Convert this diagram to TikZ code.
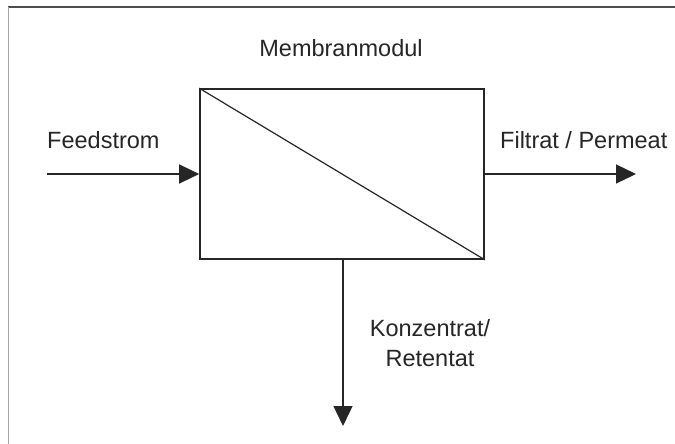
\documentclass[tikz,border=0pt]{standalone}
\usepackage{fontspec}
\setmainfont{Liberation Sans}
\usetikzlibrary{arrows.meta}
\begin{document}
\begin{tikzpicture}[x=1pt,y=-1pt,
  lbl/.style={font=\fontsize{23.5}{30}\selectfont, text=black!85, inner sep=0pt},
  flow/.style={line width=1.3pt, draw=black!85, -{Triangle[length=20pt,width=19pt]}}]
\useasboundingbox (0,0) rectangle (675,444);
\fill[white] (0,0) rectangle (675,444);
% frame
\draw[line width=1.5pt, black!70] (8,7) -- (675,7);
\draw[line width=1.5pt, black!35] (8.5,7) -- (8.5,444);
% module
\node[draw=black!85, line width=1.6pt, minimum width=284pt, minimum height=170pt, inner sep=0pt] (box) at (342,174) {};
\draw[line width=1.2pt, black!85] (box.north west) -- (box.south east);
% labels
\node[lbl] (mod) at (341,48) {Membranmodul};
\node[lbl, anchor=west] (feed) at (47,140) {Feedstrom};
\node[lbl, anchor=west] (filt) at (500,140) {Filtrat / Permeat};
\node[lbl, align=center] (konz) at (430,343) {Konzentrat/\\Retentat};
% connectors
\coordinate (fin) at (47,174);
\coordinate (fout) at (636,174);
\coordinate (kout) at (343,426);
\draw[flow] (fin) -- (box.west);
\draw[flow] (box.east) -- (fout);
\draw[flow] (box.south -| kout) -- (kout);
\end{tikzpicture}
\end{document}
